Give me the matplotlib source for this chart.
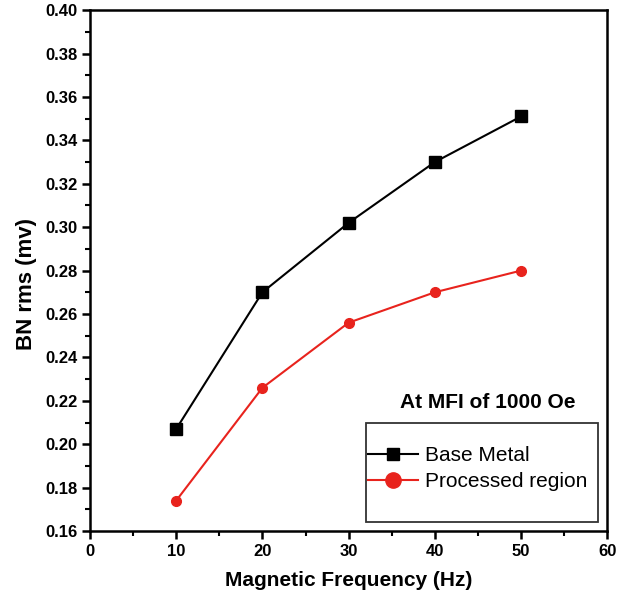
import matplotlib
matplotlib.use("Agg")
import matplotlib.pyplot as plt
from matplotlib.patches import Rectangle
from matplotlib.ticker import MultipleLocator

# Veriler
freq = [10, 20, 30, 40, 50]
base_metal = [0.207, 0.270, 0.302, 0.330, 0.351]
processed = [0.174, 0.226, 0.256, 0.270, 0.280]

plt.rcParams["font.family"] = ["Liberation Sans", "DejaVu Sans"]
plt.rcParams["font.weight"] = "bold"

fig = plt.figure(figsize=(6.27, 5.96), dpi=100)
ax = fig.add_axes([0.1435, 0.109, 0.825, 0.874])

ax.plot(freq, base_metal, color="black", marker="s", markersize=8, linewidth=1.5,
        label="Base Metal")
ax.plot(freq, processed, color="#e8231d", marker="o", markersize=7, linewidth=1.5,
        label="Processed region")

ax.set_xlim(0, 60)
ax.set_ylim(0.16, 0.40)
ax.xaxis.set_major_locator(MultipleLocator(10))
ax.xaxis.set_minor_locator(MultipleLocator(5))
ax.yaxis.set_major_locator(MultipleLocator(0.02))
ax.yaxis.set_minor_locator(MultipleLocator(0.01))
ax.yaxis.set_major_formatter(plt.FormatStrFormatter("%.2f"))

ax.tick_params(which="major", direction="out", length=6, width=1.8, labelsize=12, pad=3)
ax.tick_params(which="minor", direction="out", length=3.5, width=1.5)
for s in ax.spines.values():
    s.set_linewidth(1.8)

ax.set_xlabel("Magnetic Frequency (Hz)", fontsize=15, fontweight="bold", labelpad=9)
ax.set_ylabel("BN rms (mv)", fontsize=16, fontweight="bold")
ax.yaxis.set_label_coords(-0.103, 0.474)

ax.text(0.769, 0.246, "At MFI of 1000 Oe", transform=ax.transAxes, fontsize=15,
        fontweight="bold", ha="center", va="center")

# Lejant çerçevesi
ax.add_patch(Rectangle((0.534, 0.017), 0.449, 0.19, transform=ax.transAxes,
                       fill=False, edgecolor="#333333", linewidth=1.3, zorder=5))

leg = ax.legend(loc="upper left", bbox_to_anchor=(0.534, 0.167), fontsize=15,
                frameon=False, borderpad=0.1, borderaxespad=0,
                handlelength=2.4, handletextpad=0.3, labelspacing=0.35)
for t in leg.get_texts():
    t.set_fontweight("normal")
leg.legend_handles[0].set_markersize(9)
leg.legend_handles[1].set_markersize(11)

fig.savefig("out.png", dpi=100)
